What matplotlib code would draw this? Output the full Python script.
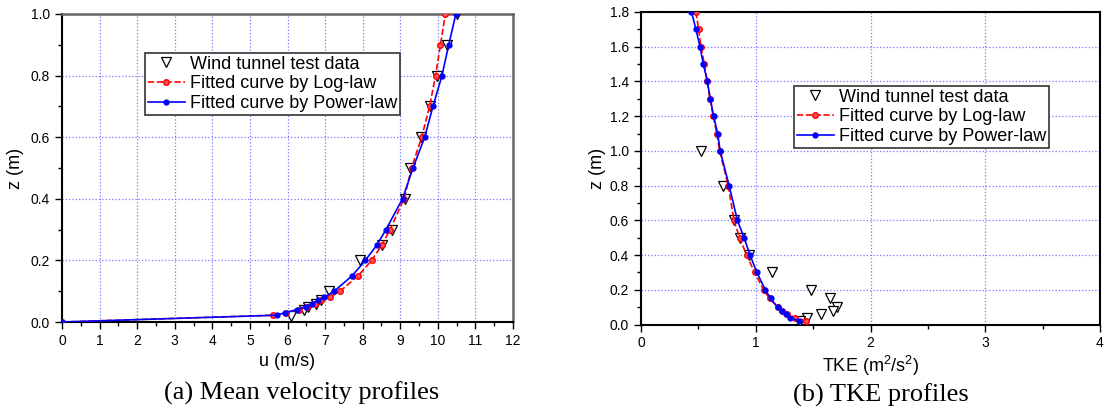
import matplotlib
matplotlib.use('Agg')
import matplotlib.pyplot as plt
from matplotlib.ticker import MultipleLocator, FormatStrFormatter

plt.rcParams['font.family'] = ['Liberation Sans', 'DejaVu Sans']
plt.rcParams['mathtext.default'] = 'regular'

# (a) mean velocity profiles
z_fit_u = [0, 0.022, 0.03, 0.04, 0.05, 0.06, 0.07, 0.08, 0.1, 0.15, 0.2, 0.25, 0.3,
           0.4, 0.5, 0.6, 0.7, 0.8, 0.9, 1.0]
u_log = [0, 5.61, 5.95, 6.3, 6.52, 6.74, 6.9, 7.12, 7.4, 7.88, 8.24, 8.51, 8.73,
         9.1, 9.3, 9.57, 9.78, 9.94, 10.07, 10.2]
u_pow = [0, 5.71, 5.93, 6.24, 6.48, 6.65, 6.82, 6.98, 7.24, 7.72, 8.07, 8.38, 8.62,
         9.06, 9.34, 9.65, 9.87, 10.11, 10.29, 10.48]
z_test_u = [0.02, 0.04, 0.05, 0.06, 0.07, 0.1, 0.2, 0.25, 0.3, 0.4, 0.5, 0.6, 0.7, 0.8, 0.9, 1.0]
u_test = [6.1, 6.45, 6.55, 6.75, 6.9, 7.1, 7.93, 8.52, 8.78, 9.12, 9.27, 9.55, 9.8, 9.97, 10.24, 10.5]

# (b) TKE profiles
z_fit_k = [1.8, 1.7, 1.6, 1.5, 1.4, 1.3, 1.2, 1.1, 1.0, 0.8, 0.6, 0.5, 0.4, 0.3, 0.2,
           0.15, 0.1, 0.08, 0.06, 0.04, 0.02]
k_log = [0.479, 0.502, 0.523, 0.552, 0.578, 0.6, 0.63, 0.66, 0.686, 0.76, 0.81, 0.86,
         0.92, 0.99, 1.068, 1.12, 1.19, 1.23, 1.274, 1.343, 1.44]
k_pow = [0.44, 0.479, 0.514, 0.543, 0.578, 0.604, 0.633, 0.668, 0.69, 0.768, 0.84, 0.898,
         0.95, 1.01, 1.083, 1.13, 1.19, 1.228, 1.265, 1.30, 1.38]
z_test_k = [1.0, 0.8, 0.6, 0.5, 0.4, 0.3, 0.2, 0.15, 0.1, 0.08, 0.06, 0.04, 0.02]
k_test = [0.52, 0.715, 0.81, 0.86, 0.94, 1.14, 1.48, 1.65, 1.71, 1.675, 1.565, 1.45, 1.385]

labels = ['Wind tunnel test data', 'Fitted curve by Log-law', 'Fitted curve by Power-law']

W, H = 1105, 408
fig = plt.figure(figsize=(W / 100, H / 100), dpi=100)
ax1 = fig.add_axes([62 / W, (H - 322) / H, 451 / W, 308 / H])
ax2 = fig.add_axes([641 / W, (H - 324.5) / H, 459 / W, 312.5 / H])


def draw(ax, xt, zt, xl, zl, xp, zp):
    ax.plot(xt, zt, 'v', ms=7, mfc='white', mec='black', mew=0.9, ls='none', label=labels[0], zorder=3)
    ax.plot(xl, zl, color='red', ls='--', lw=1.2, marker='o', ms=4, mfc='#ff5050', mec='red',
            label=labels[1], zorder=4)
    ax.plot(xp, zp, color='blue', ls='-', lw=1.2, marker='o', ms=3.5, mfc='blue', mec='blue',
            label=labels[2], zorder=5)
    ax.grid(True, which='major', color='#7878ff', ls=':', lw=0.9)
    ax.set_axisbelow(True)
    ax.tick_params(which='both', direction='out', top=False, right=False, labelsize=10)
    ax.tick_params(which='major', length=5, width=1)
    ax.tick_params(which='minor', length=3, width=1)


draw(ax1, u_test, z_test_u, u_log, z_fit_u, u_pow, z_fit_u)
ax1.set_xlim(0, 12)
ax1.set_ylim(0, 1.0)
ax1.xaxis.set_major_locator(MultipleLocator(1))
ax1.xaxis.set_minor_locator(MultipleLocator(0.5))
ax1.yaxis.set_major_locator(MultipleLocator(0.2))
ax1.yaxis.set_minor_locator(MultipleLocator(0.1))
ax1.yaxis.set_major_formatter(FormatStrFormatter('%.1f'))
for s in ['top', 'right']:
    ax1.spines[s].set_color('#666666')
    ax1.spines[s].set_linewidth(1.8)
for s in ['left', 'bottom']:
    ax1.spines[s].set_linewidth(1.5)
ax1.set_xlabel('u (m/s)', fontsize=13, va='center')
ax1.xaxis.set_label_coords(0.5, -0.127)
ax1.set_ylabel('z (m)', fontsize=13, va='center')
ax1.yaxis.set_label_coords(-0.102, 0.5)

draw(ax2, k_test, z_test_k, k_log, z_fit_k, k_pow, z_fit_k)
ax2.set_xlim(0, 4)
ax2.set_ylim(0, 1.8)
ax2.xaxis.set_major_locator(MultipleLocator(1))
ax2.xaxis.set_minor_locator(MultipleLocator(0.5))
ax2.yaxis.set_major_locator(MultipleLocator(0.2))
ax2.yaxis.set_minor_locator(MultipleLocator(0.1))
ax2.yaxis.set_major_formatter(FormatStrFormatter('%.1f'))
for s in ax2.spines.values():
    s.set_linewidth(1.5)
ax2.set_xlabel('TKE (m$^2$/s$^2$)', fontsize=13, va='center')
ax2.xaxis.set_label_coords(0.5, -0.133)
ax2.set_ylabel('z (m)', fontsize=13, va='center')
ax2.yaxis.set_label_coords(-0.094, 0.5)

# legends placed in figure coordinates
for ax, (lx, ly) in [(ax1, (145, 53)), (ax2, (794, 86))]:
    leg = ax.legend(loc='upper left', bbox_to_anchor=(lx / W, 1 - ly / H),
                    bbox_transform=fig.transFigure, borderaxespad=0, fontsize=13,
                    numpoints=1, handlelength=2.05, handletextpad=0.3,
                    labelspacing=0.15, borderpad=0.15, fancybox=False, framealpha=1)
    leg.get_frame().set_edgecolor('#333333')
    leg.get_frame().set_linewidth(1.2)

fig.text(302 / W, 1 - 393 / H, '(a) Mean velocity profiles', family='Liberation Serif',
         fontsize=19, ha='center', va='center')
fig.text(881 / W, 1 - 395 / H, '(b) TKE profiles', family='Liberation Serif',
         fontsize=19, ha='center', va='center')

plt.savefig('out.png', dpi=100)
plt.close()
